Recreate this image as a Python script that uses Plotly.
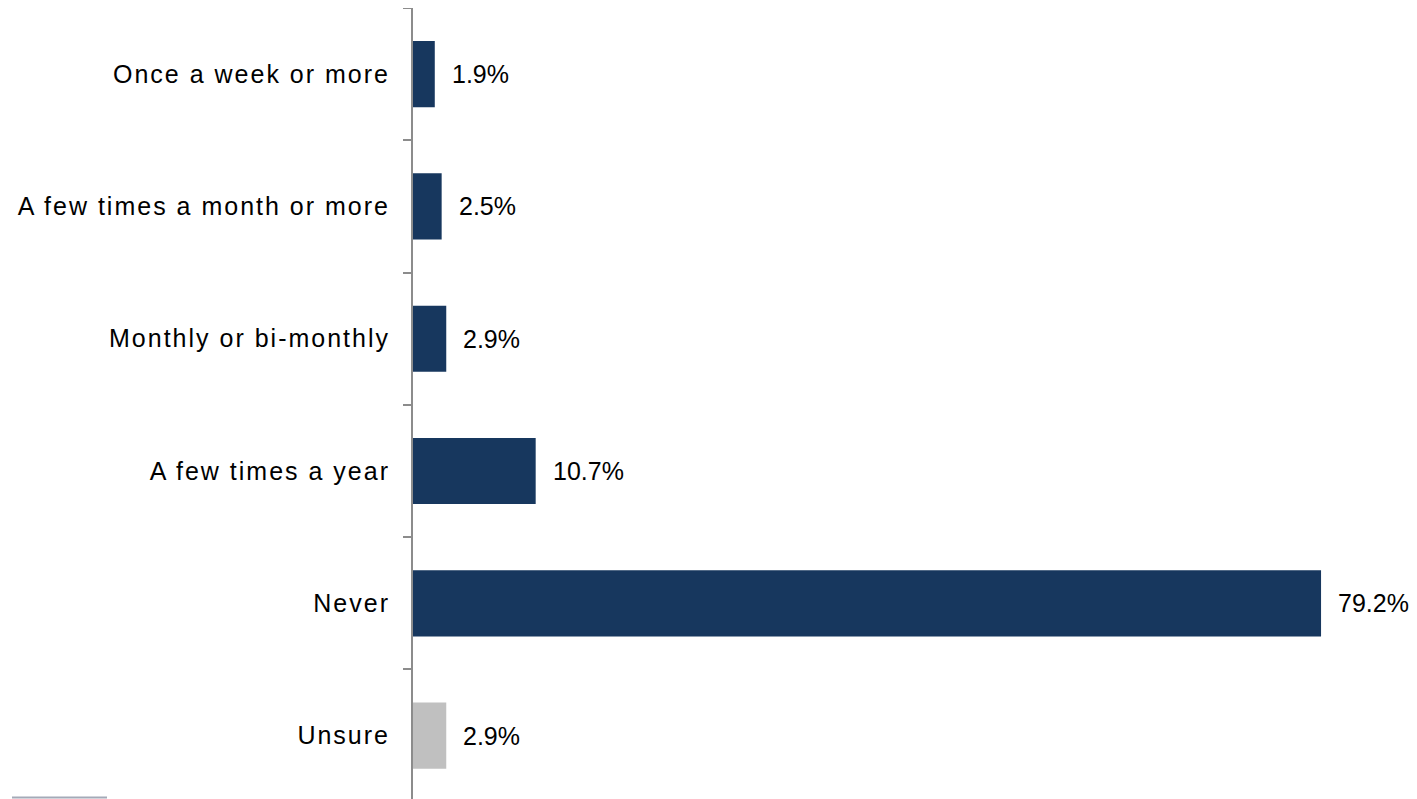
import plotly.graph_objects as go

categories = ["Once a week or more", "A few times a month or more", "Monthly or bi-monthly",
              "A few times a year", "Never", "Unsure"]
values = [1.9, 2.5, 2.9, 10.7, 79.2, 2.9]
colors = ["#17375E", "#17375E", "#17375E", "#17375E", "#17375E", "#C0C0C0"]
value_labels = [f"{v:.1f}%" for v in values]

FONT = "Liberation Sans, Arial, sans-serif"

fig = go.Figure()
fig.add_trace(go.Bar(
    x=values, y=categories, orientation="h",
    marker=dict(color=colors, line=dict(width=0)),
    width=0.5, hoverinfo="skip",
))

for c, v, t in zip(categories, values, value_labels):
    fig.add_annotation(x=v, y=c, text=t, showarrow=False, xanchor="left", yanchor="middle",
                       xshift=15, font=dict(family=FONT, size=25, color="#000000"))

fig.add_shape(type="line", xref="paper", yref="paper", x0=-0.401, x1=-0.306, y0=0.002, y1=0.002,
              line=dict(color="#A4AAB8", width=2))

fig.update_layout(
    width=1409, height=791,
    margin=dict(l=405, r=4, t=0, b=0),
    paper_bgcolor="white", plot_bgcolor="white",
    showlegend=False,
    font=dict(family=FONT, size=25, color="#000000"),
    xaxis=dict(range=[0, 87.22], visible=False, showgrid=False, zeroline=False),
    yaxis=dict(
        categoryorder="array", categoryarray=categories,
        range=[5.479, -0.5],
        showline=True, linecolor="#8C8C8C", linewidth=2,
        ticks="outside", tickson="boundaries", ticklen=8, tickcolor="#8C8C8C", tickwidth=2,
        ticklabelstandoff=16,
        showgrid=False, zeroline=False,
        tickfont=dict(family=FONT, size=25, color="#000000"),
    ),
)

post = """
var gd = document.getElementById('{plot_id}');
function spaceLabels() {
  gd.querySelectorAll('.ytick text').forEach(function(t) { t.style.letterSpacing = '2px'; });
}
spaceLabels();
gd.on('plotly_afterplot', spaceLabels);
"""

fig.write_html("out.html", post_script=post)
